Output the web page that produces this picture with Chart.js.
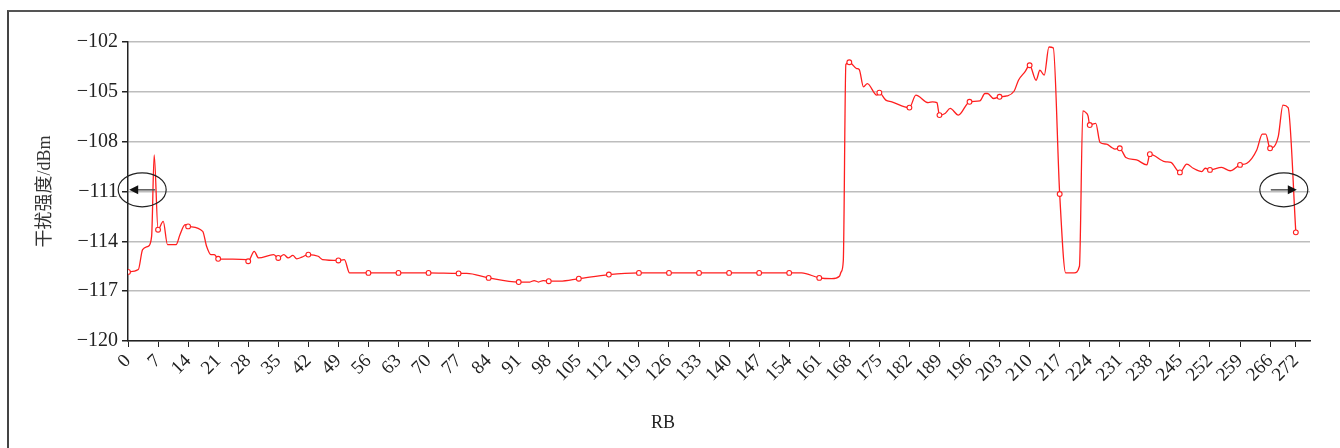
<!DOCTYPE html>
<html>
<head>
<meta charset="utf-8">
<script src="https://cdn.jsdelivr.net/npm/chart.js@4"></script>
<style>
  body { margin: 0; background: #fff; }
  #wrap { position: relative; width: 1340px; height: 448px; }
  #frame { position: absolute; left: 7px; top: 10px; right: 0; bottom: 0;
           border-top: 2px solid #555; border-left: 2px solid #444; pointer-events: none; }
</style>
</head>
<body>
<div id="wrap">
  <canvas id="chart" width="1340" height="448"></canvas>
  <div id="frame"></div>
</div>
<script>
// RB index and measured interference (dBm)
const rbValues = [
  0, 2.4, 3.4, 4.7, 5.5, 6.1, 7, 8.2, 9.2, 11.2, 12.1, 13.3, 14, 17.4, 18.3, 19.3, 20.1, 21,
  27.6, 28, 29.4, 30.4, 33.9, 35, 36.3, 37.3, 38.4, 39.3, 40.5, 42, 44.3, 45.3, 49, 50.4, 51.6,
  56, 63, 70, 77, 78.9, 84, 91, 93.6, 94.6, 95.6, 96.7, 98, 100.6, 105, 112, 119, 126, 133,
  140, 147, 154, 156.9, 161, 163.9, 165.7, 166.1, 166.6, 167.2,
  168, 169.7, 170.3, 171.3, 172.2, 174.4, 175, 176.5, 177.9, 182, 183.5, 186.4, 187.4, 188.4,
  189, 190.3, 191.5, 193.4, 196, 198.4, 199.6, 200.2, 201.6, 203, 204.7, 206.4, 207.4, 208.9,
  210, 211.5, 212.4, 213.4, 214.5, 215.5, 217, 218.4, 220.4, 221.6, 222.4, 223.1, 223.6,
  224, 225.4, 226.4, 227.9, 229.1, 229.9, 231, 231.6, 232.4, 234.9, 237.3, 238, 241.5, 242.9,
  245, 246.6, 248.1, 250.1, 250.9, 252, 254.7, 256.7, 259, 260.6, 262.9, 264.2, 265,
  266, 267.9, 269, 270.2, 272
];
const dbmValues = [
  -115.84, -115.7, -114.5, -114.3, -113.7, -108.8, -113.3, -112.8, -114.2, -114.2, -113.6, -113.0, -113.1, -113.4, -114.3, -114.8, -114.8, -115.05,
  -115.1, -115.2, -114.6, -115.0, -114.8, -115.0, -114.8, -115.0, -114.85, -115.05, -114.95, -114.8, -114.9, -115.1, -115.15, -115.1, -115.9,
  -115.9, -115.9, -115.9, -115.93, -115.93, -116.2, -116.45, -116.45, -116.36, -116.45, -116.36, -116.4, -116.4, -116.25, -116.0, -115.9, -115.9, -115.9,
  -115.9, -115.9, -115.9, -115.9, -116.2, -116.25, -116.1, -115.84, -115.17, -103.35,
  -103.22, -103.6, -103.65, -104.7, -104.5, -105.2, -105.05, -105.5, -105.6, -105.95, -105.2, -105.65, -105.6, -105.65,
  -106.4, -106.3, -106.0, -106.4, -105.6, -105.55, -105.1, -105.1, -105.4, -105.3, -105.25, -104.95, -104.3, -103.8,
  -103.4, -104.3, -103.7, -104.0, -102.3, -102.35, -111.15, -115.9, -115.9, -115.5, -106.15, -106.25, -106.45,
  -107.0, -106.9, -108.05, -108.15, -108.35, -108.45, -108.4, -108.6, -108.95, -109.1, -109.4, -108.75, -109.2, -109.25,
  -109.85, -109.35, -109.6, -109.8, -109.6, -109.7, -109.55, -109.75, -109.4, -109.3, -108.5, -107.55, -107.55,
  -108.4, -107.7, -105.8, -105.95, -113.46
];
// RB positions that carry a marker
const markedRB = [0, 7, 14, 21, 28, 35, 42, 49, 56, 63, 70, 77, 84, 91, 98, 105, 112, 119, 126, 133,
  140, 147, 154, 161, 168, 175, 182, 189, 196, 203, 210, 217, 224, 231, 238, 245, 252, 259, 266, 272];
const xTickLabels = [0, 7, 14, 21, 28, 35, 42, 49, 56, 63, 70, 77, 84, 91, 98, 105, 112, 119, 126, 133,
  140, 147, 154, 161, 168, 175, 182, 189, 196, 203, 210, 217, 224, 231, 238, 245, 252, 259, 266, 272];
const yTickValues = [-120, -117, -114, -111, -108, -105, -102];

const points = rbValues.map((rb, i) => ({ x: rb, y: dbmValues[i] }));
const serif = "'Liberation Serif', 'Noto Sans CJK SC', serif";

// ellipses with arrows + x title
const annotate = {
  id: 'annotate',
  afterDatasetsDraw(chart) {
    const { ctx, scales: { x, y } } = chart;
    const cy = y.getPixelForValue(-110.9);
    function marker(rb, dir) {
      const cx = x.getPixelForValue(rb);
      ctx.save();
      ctx.strokeStyle = '#222';
      ctx.lineWidth = 1.2;
      ctx.beginPath();
      ctx.ellipse(cx, cy, 24, 17, 0, 0, Math.PI * 2);
      ctx.stroke();
      const tip = cx + dir * 13;
      ctx.strokeStyle = '#555';
      ctx.lineWidth = 1.5;
      ctx.beginPath();
      ctx.moveTo(cx - dir * 13, cy);
      ctx.lineTo(tip - dir * 6, cy);
      ctx.stroke();
      ctx.fillStyle = '#111';
      ctx.beginPath();
      ctx.moveTo(tip, cy);
      ctx.lineTo(tip - dir * 9, cy - 4.5);
      ctx.lineTo(tip - dir * 9, cy + 4.5);
      ctx.closePath();
      ctx.fill();
      ctx.restore();
    }
    marker(3.3, -1);
    marker(269.2, 1);
    ctx.save();
    ctx.fillStyle = '#222';
    ctx.font = '18px ' + serif;
    ctx.textAlign = 'center';
    ctx.textBaseline = 'middle';
    ctx.fillText('RB', chart.width / 2 - 7, 423);
    ctx.restore();
  }
};

new Chart(document.getElementById('chart'), {
  type: 'line',
  data: {
    datasets: [{
      data: points,
      borderColor: '#ff1f1f',
      borderWidth: 1.3,
      cubicInterpolationMode: 'monotone',
      pointRadius: ctx => markedRB.includes(ctx.raw.x) ? 2.4 : 0,
      pointBackgroundColor: '#fff',
      pointBorderColor: '#ff1f1f',
      pointBorderWidth: 1.1,
      fill: false
    }]
  },
  options: {
    responsive: false,
    animation: false,
    layout: { padding: { left: 0, right: 30, top: 42, bottom: 0 } },
    plugins: { legend: { display: false }, tooltip: { enabled: false } },
    scales: {
      x: {
        type: 'linear',
        min: 0,
        max: 275.3,
        afterBuildTicks: axis => { axis.ticks = xTickLabels.map(v => ({ value: v })); },
        afterFit: axis => { axis.height = 107; },
        ticks: {
          autoSkip: false,
          maxRotation: 45,
          minRotation: 45,
          padding: 3,
          color: '#222',
          font: { family: serif, size: 19 }
        },
        grid: { drawOnChartArea: false, drawTicks: true, tickLength: 6, color: '#222' },
        border: { color: '#222', width: 1.5 }
      },
      y: {
        min: -120,
        max: -102,
        afterBuildTicks: axis => { axis.ticks = yTickValues.map(v => ({ value: v })); },
        afterFit: axis => { axis.width = 128; },
        ticks: {
          padding: 4,
          color: '#222',
          font: { family: serif, size: 20 },
          callback: v => '\u2212' + Math.abs(v)
        },
        title: {
          display: true,
          text: '干扰强度/dBm',
          color: '#333',
          font: { family: serif, size: 18 },
          padding: { top: 34, bottom: 0 }
        },
        grid: { color: '#bdbdbd', lineWidth: 1.5, tickLength: 6, tickColor: '#222' },
        border: { color: '#222', width: 1.5 }
      }
    }
  },
  plugins: [annotate]
});
</script>
</body>
</html>
